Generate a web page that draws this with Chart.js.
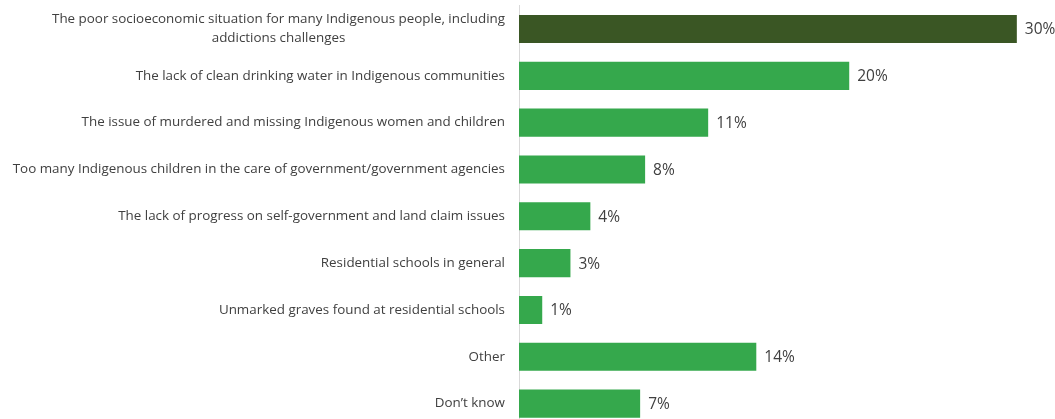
<!DOCTYPE html>
<html>
<head>
<meta charset="utf-8">
<script src="https://cdn.jsdelivr.net/npm/chart.js@4"></script>
<style>
  html, body { margin: 0; padding: 0; background: #fff; overflow: hidden; }
  #wrap { width: 1055px; height: 427px; position: relative; }
</style>
</head>
<body>
<div id="wrap"><canvas id="bar-chart"></canvas></div>
<script>
// categories (first one wraps onto two lines)
const categories = [
  ["The poor socioeconomic situation for many Indigenous people, including", "addictions challenges"],
  "The lack of clean drinking water in Indigenous communities",
  "The issue of murdered and missing Indigenous women and children",
  "Too many Indigenous children in the care of government/government agencies",
  "The lack of progress on self-government and land claim issues",
  "Residential schools in general",
  "Unmarked graves found at residential schools",
  "Other",
  "Don\u2019t know",
];
// bar lengths (labels show them rounded)
const values = [30, 19.9, 11.4, 7.6, 4.3, 3.1, 1.4, 14.3, 7.3];
const barColors = ["#3a5624", "#35a84c", "#35a84c", "#35a84c", "#35a84c", "#35a84c", "#35a84c", "#35a84c", "#35a84c"];

const labelFont = '13.4px "Open Sans", sans-serif';
const valueFont = '15.5px "Open Sans", sans-serif';
const textColor = "#404040";

// draw the category labels ourselves so wrapped lines stay centred on each other
const categoryLabels = {
  id: "categoryLabels",
  afterDraw(chart) {
    const ctx = chart.ctx;
    const yScale = chart.scales.y;
    const right = chart.chartArea.left - 14;
    ctx.save();
    ctx.font = labelFont;
    ctx.fillStyle = textColor;
    ctx.textBaseline = "middle";
    ctx.textAlign = "center";
    categories.forEach((cat, i) => {
      const y = yScale.getPixelForValue(i);
      const lines = Array.isArray(cat) ? cat : [cat];
      const widest = Math.max(...lines.map((l) => ctx.measureText(l).width));
      const center = right - widest / 2;
      const lh = 19;
      lines.forEach((line, j) => {
        ctx.fillText(line, center, y + (j - (lines.length - 1) / 2) * lh);
      });
    });
    ctx.restore();
  },
};

// percentage at the end of each bar
const valueLabels = {
  id: "valueLabels",
  afterDatasetsDraw(chart) {
    const ctx = chart.ctx;
    const meta = chart.getDatasetMeta(0);
    ctx.save();
    ctx.font = valueFont;
    ctx.fillStyle = textColor;
    ctx.textAlign = "left";
    ctx.textBaseline = "middle";
    meta.data.forEach((bar, i) => {
      ctx.fillText(Math.round(values[i]) + "%", bar.x + 8, bar.y + 1);
    });
    ctx.restore();
  },
};

new Chart(document.getElementById("bar-chart").getContext("2d"), {
  type: "bar",
  data: {
    labels: categories,
    datasets: [
      {
        data: values,
        backgroundColor: barColors,
        borderWidth: 0,
        categoryPercentage: 1,
        barPercentage: 0.6,
      },
    ],
  },
  options: {
    indexAxis: "y",
    responsive: true,
    maintainAspectRatio: false,
    animation: false,
    layout: { padding: { top: 5.6, right: 0, bottom: 0, left: 0 } },
    plugins: { legend: { display: false }, tooltip: { enabled: false } },
    scales: {
      x: { display: false, min: 0, max: 32.3 },
      y: {
        afterFit(scale) {
          scale.width = 519;
        },
        grid: { display: false, drawTicks: false },
        border: { display: true, color: "#d9d9d9", width: 1 },
        ticks: { display: false },
      },
    },
  },
  plugins: [categoryLabels, valueLabels],
});
</script>
</body>
</html>
